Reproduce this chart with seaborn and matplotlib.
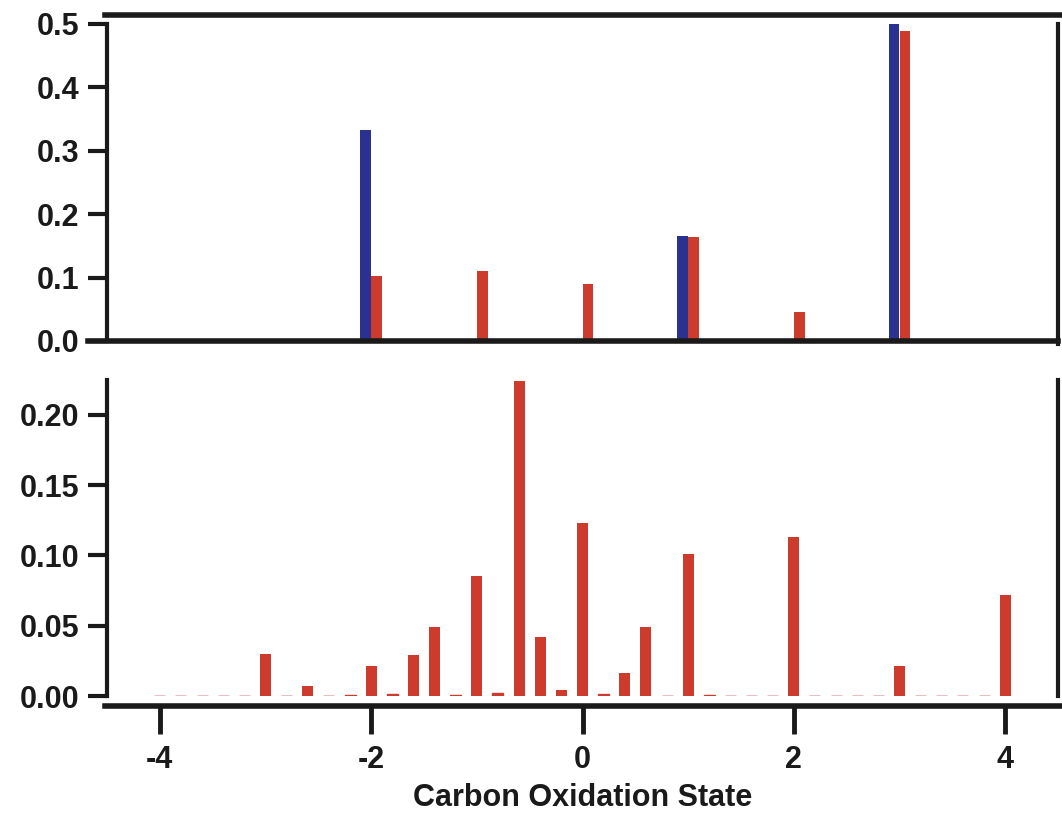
import numpy as np
import pandas as pd
import matplotlib
matplotlib.use("Agg")
import matplotlib.pyplot as plt
import seaborn as sns
from matplotlib.ticker import FormatStrFormatter

# ---------------- data ----------------
top_states = [-4, -3, -2, -1, 0, 1, 2, 3, 4]
top_blue = [0.0, 0.0, 0.332, 0.0, 0.0, 0.166, 0.0, 0.500, 0.0]
top_red = [0.0, 0.002, 0.103, 0.110, 0.090, 0.164, 0.046, 0.488, 0.0]

bottom_states = [-4.0, -3.8, -3.6, -3.4, -3.2, -3.0, -2.8, -2.6, -2.4, -2.2,
                 -2.0, -1.8, -1.6, -1.4, -1.2, -1.0, -0.8, -0.6, -0.4, -0.2,
                 0.0, 0.2, 0.4, 0.6, 0.8, 1.0, 1.2, 1.4, 1.6, 1.8,
                 2.0, 2.2, 2.4, 2.6, 2.8, 3.0, 3.2, 3.4, 3.6, 3.8, 4.0]
bottom_red = [0.0, 0.0, 0.0, 0.0, 0.0, 0.030, 0.0, 0.007, 0.0, 0.001,
              0.021, 0.0013, 0.029, 0.049, 0.001, 0.085, 0.002, 0.224, 0.042, 0.0045,
              0.123, 0.0014, 0.016, 0.049, 0.0, 0.101, 0.001, 0.0, 0.0, 0.0,
              0.113, 0.0, 0.0, 0.0, 0.0, 0.021, 0.0, 0.0, 0.0, 0.0, 0.072]

top_yticks = [0.0, 0.1, 0.2, 0.3, 0.4, 0.5]
bottom_yticks = [0.00, 0.05, 0.10, 0.15, 0.20]
bottom_xticks = [-4, -2, 0, 2, 4]
xlabel = "Carbon Oxidation State"

BLUE = "#2B3190"
RED = "#CC3B2C"
FAINT = "#E6A9AE"
INK = "#1a1a1a"

# ---------------- style ----------------
sns.set_theme(style="white")
plt.rcParams["font.family"] = ["Liberation Sans", "DejaVu Sans"]
plt.rcParams["font.weight"] = "bold"

fig = plt.figure(figsize=(10.62, 8.24), dpi=100)
W, H = 1062, 824
ax1 = fig.add_axes([107 / W, 1 - 341 / H, (1058 - 107) / W, (341 - 15) / H])
ax2 = fig.add_axes([107 / W, 1 - 696 / H, (1058 - 107) / W, (696 - 380) / H])

# ---------------- top panel ----------------
df_top = pd.DataFrame({
    "state": top_states * 2,
    "value": top_blue + top_red,
    "series": ["blue"] * len(top_states) + ["red"] * len(top_states),
})
sns.barplot(data=df_top, x="state", y="value", hue="series",
            hue_order=["blue", "red"], palette={"blue": BLUE, "red": RED},
            native_scale=True, width=0.21, dodge=True, gap=0.05,
            errorbar=None, legend=False, saturation=1, linewidth=0,
            edgecolor="none", ax=ax1)

# ---------------- bottom panel ----------------
df_bot = pd.DataFrame({"state": bottom_states, "value": bottom_red})
sns.barplot(data=df_bot, x="state", y="value", color=RED, native_scale=True,
            width=0.52, errorbar=None, saturation=1, linewidth=0,
            edgecolor="none", ax=ax2)
for p in ax2.patches:
    h = p.get_height()
    if h == 0:
        p.set_edgecolor(FAINT)
        p.set_linewidth(1.8)
    elif h < 0.0025:
        p.set_edgecolor(RED)
        p.set_linewidth(1.0)

LABEL_FS = 22
for ax in (ax1, ax2):
    ax.set_xlim(-4.5, 4.5)
    ax.set_xlabel("")
    ax.set_ylabel("")
    ax.grid(False)
    for s in ax.spines.values():
        s.set_color(INK)
    ax.tick_params(axis="y", direction="out", length=14, width=3,
                   color=INK, labelsize=LABEL_FS, pad=6, left=True)

# top panel axes styling
ax1.set_ylim(0, 0.514)
ax1.set_yticks(top_yticks)
ax1.yaxis.set_major_formatter(FormatStrFormatter("%.1f"))
ax1.set_xticks([])
ax1.spines["left"].set_bounds(0, 0.5)
ax1.spines["right"].set_bounds(-0.004, 0.5)
ax1.spines["left"].set_linewidth(3)
ax1.spines["right"].set_linewidth(3)
ax1.spines["top"].set_linewidth(4)
ax1.spines["top"].set_bounds(-4.52, 4.54)
ax1.spines["bottom"].set_linewidth(4)
ax1.spines["bottom"].set_bounds(-4.68, 4.5)

# bottom panel axes styling
ax2.set_ylim(0, 0.2247)
ax2.set_yticks(bottom_yticks)
ax2.yaxis.set_major_formatter(FormatStrFormatter("%.2f"))
ax2.set_xticks(bottom_xticks)
ax2.set_xticklabels([str(t) for t in bottom_xticks])
ax2.spines["top"].set_visible(False)
ax2.spines["bottom"].set_position(("outward", 7))
ax2.spines["bottom"].set_linewidth(4)
ax2.spines["bottom"].set_bounds(-4.52, 4.54)
ax2.spines["left"].set_linewidth(3)
ax2.spines["right"].set_linewidth(3)
ax2.tick_params(axis="x", direction="out", length=20, width=3.5,
                color=INK, labelsize=LABEL_FS, pad=8, bottom=True)
ax2.set_xlabel(xlabel, fontsize=LABEL_FS, fontweight="bold", labelpad=6,
               color=INK)

for ax in (ax1, ax2):
    for lab in ax.get_yticklabels() + ax.get_xticklabels():
        lab.set_color(INK)
        lab.set_fontweight("bold")
        lab.set_fontsize(LABEL_FS)

fig.savefig("out.png", dpi=100, facecolor="white")
